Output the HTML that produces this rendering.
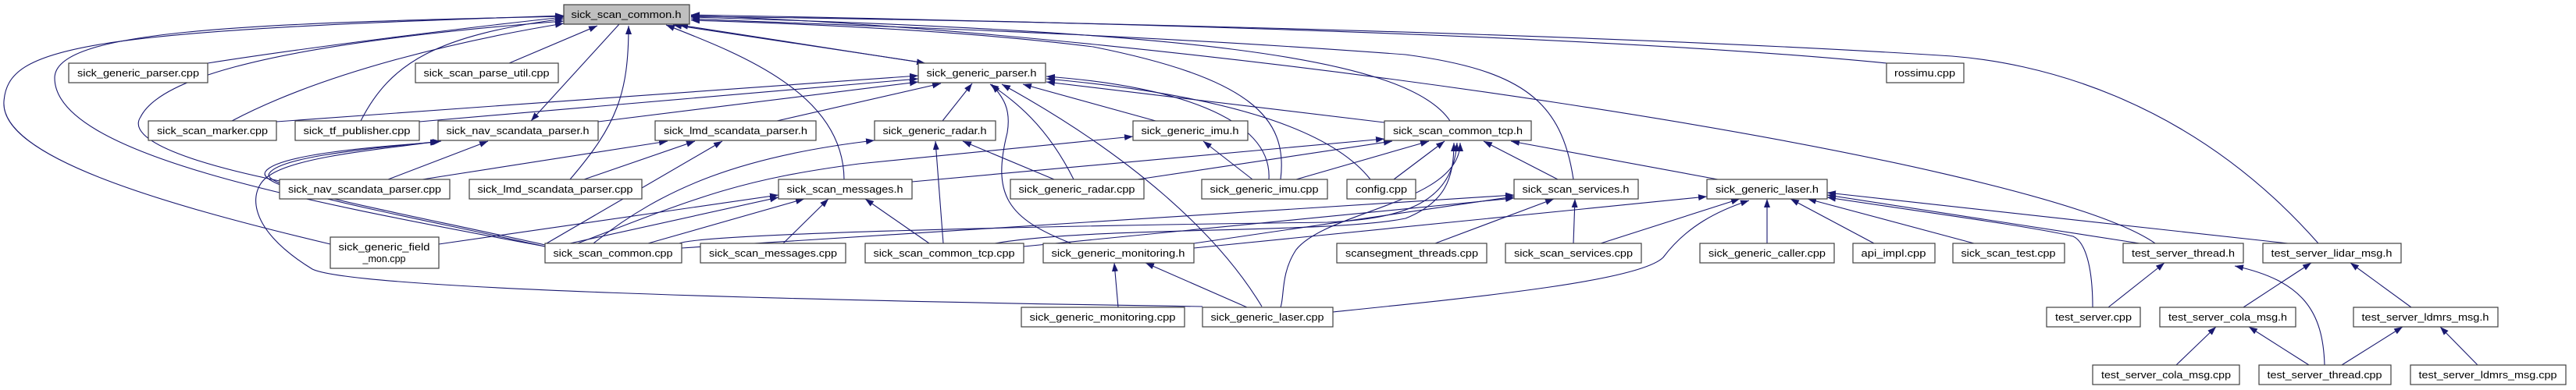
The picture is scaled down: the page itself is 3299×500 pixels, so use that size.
<!DOCTYPE html>
<html><head><meta charset="utf-8"><style>
html,body{margin:0;padding:0;background:#fff;}
svg{display:block;}
text{font-family:"Liberation Sans",sans-serif;font-size:13px;fill:#000;}
</style></head><body>
<svg width="3299" height="500" viewBox="0 0 3299 500" xmlns="http://www.w3.org/2000/svg">
<defs>
<marker id="a" markerUnits="userSpaceOnUse" markerWidth="12" markerHeight="10" refX="11" refY="4" orient="auto-start-reverse"><path d="M0,0 L11,4 L0,8 z" fill="#191970"/></marker>
</defs>
<g fill="none" stroke="#191970" stroke-width="1.1" marker-end="url(#a)">
<!-- to sick_scan_common.h -->
<path d="M266,81 C400,60 600,35 722,22"/>
<path d="M297,155 C420,90 600,50 722,30"/>
<path d="M462,155 C500,80 560,45 722,24"/>
<path d="M358,232 C250,210 160,180 180,150 C200,110 300,60 722,27"/>
<path d="M423,313 C200,260 0,200 5,130 C10,60 100,40 722,20"/>
<path d="M698,316 C400,260 70,200 70,100 C70,40 300,30 722,21"/>
<path d="M652,81 L765,33"/>
<path d="M730,230 C790,160 805,120 805,33"/>
<path d="M1081,230 C1080,120 950,70 853,32"/>
<path d="M1185,81 L870,32" marker-start="url(#a)"/>
<path d="M1180,80 L862,32"/>
<path d="M2416,81 C2000,40 1200,25 885,19"/>
<path d="M2760,312 C2600,200 1500,40 885,20"/>
<path d="M2969,312 C2800,120 2600,80 2500,72 C2000,40 1200,25 885,21"/>
<path d="M1857,155 C1800,70 1500,40 885,22"/>
<path d="M2015,230 C2000,130 1950,90 1800,70 C1400,40 1000,30 885,24"/>
<path d="M1640,230 C1650,150 1600,100 1400,60 C1200,35 950,28 885,26"/>
<path d="M793,31 L680,155"/>
<!-- to sick_generic_parser.h -->
<path d="M354,156 L1176,97"/>
<path d="M537,156 L1176,101"/>
<path d="M766,156 L1176,105"/>
<path d="M995,155 L1205,107"/>
<path d="M1207,155 L1245,107"/>
<path d="M1375,230 C1340,160 1300,130 1268,108"/>
<path d="M1372,312 C1290,280 1270,250 1290,170 C1295,140 1285,125 1270,108"/>
<path d="M1616,393 C1560,300 1450,200 1283,108"/>
<path d="M1480,155 L1310,108"/>
<path d="M1625,230 C1630,150 1500,110 1340,98"/>
<path d="M1755,230 C1700,160 1550,120 1340,101"/>
<path d="M1773,157 L1340,105"/>
<!-- to nav_scandata_parser.h -->
<path d="M497,230 L625,181"/>
<path d="M698,314 C500,270 330,240 345,222 C360,200 480,190 565,181"/>
<path d="M698,316 C500,272 325,242 340,220 C355,198 480,188 562,182"/>
<path d="M1540,393 C1000,385 450,370 400,345 C310,290 320,240 345,225 C380,200 500,190 563,181"/>
<path d="M541,230 L855,181"/>
<!-- to lmd_scandata_parser.h -->
<path d="M748,230 L890,181"/>
<path d="M700,312 L925,181"/>
<!-- radar.h -->
<path d="M760,312 C850,240 950,200 1120,180"/>
<path d="M1208,312 L1198,181"/>
<path d="M1350,230 L1233,181"/>
<!-- imu.h -->
<path d="M740,312 C900,250 950,230 1100,210 C1300,190 1400,180 1451,175"/>
<path d="M1604,230 L1541,181"/>
<!-- messages.h -->
<path d="M730,312 L997,253"/>
<path d="M562,313 L997,250"/>
<path d="M830,312 L1030,255"/>
<path d="M1003,312 L1061,255"/>
<path d="M1190,312 L1108,255"/>
<!-- tcp.h -->
<path d="M1168,233 L1773,178"/>
<path d="M1457,230 L1783,181"/>
<path d="M1660,230 L1830,181"/>
<path d="M1785,230 L1850,181"/>
<path d="M1995,230 L1900,181"/>
<path d="M2200,230 L1935,181"/>
<path d="M870,312 C900,300 1300,290 1700,285 C1800,280 1860,260 1866,183"/>
<path d="M1640,394 C1645,380 1640,350 1660,320 C1700,270 1870,260 1870,183"/>
<path d="M1274,312 C1400,290 1700,300 1800,280 C1850,260 1862,230 1862,183"/>
<!-- services.h -->
<path d="M873,318 L1939,250"/>
<path d="M1529,312 L1939,252"/>
<path d="M1311,316 L1939,254"/>
<path d="M1838,312 L1990,255"/>
<path d="M2015,312 L2017,255"/>
<!-- laser.h -->
<path d="M1529,318 L2186,252"/>
<path d="M2050,312 L2228,255"/>
<path d="M1707,400 C1900,380 2100,360 2130,330 C2160,290 2200,270 2240,257"/>
<path d="M2263,312 L2263,255"/>
<path d="M2400,312 L2293,255"/>
<path d="M2528,312 L2315,255"/>
<path d="M2740,312 L2340,250"/>
<path d="M2930,312 L2340,247"/>
<path d="M2680,394 C2680,340 2670,310 2655,303 C2600,290 2450,270 2340,253"/>
<!-- lower -->
<path d="M1432,394 L1427,337"/>
<path d="M1597,394 L1467,337"/>
<path d="M2700,394 L2772,337"/>
<path d="M2873,394 L2960,337"/>
<path d="M3088,394 L3010,337"/>
<path d="M2787,468 L2838,419"/>
<path d="M2957,468 L2880,419"/>
<path d="M2977,468 C2975,400 2950,360 2862,341"/>
<path d="M2999,468 L3077,419"/>
<path d="M3173,468 L3125,419"/>
</g>
<g stroke="#404040" stroke-width="1.2" fill="#fff">
<rect x="722" y="6" width="161" height="25" fill="#bfbfbf"/>
<rect x="88" y="81" width="178" height="25"/>
<rect x="532" y="81" width="183" height="25"/>
<rect x="1176" y="81" width="163" height="25"/>
<rect x="2416" y="81" width="99" height="25"/>
<rect x="190" y="155" width="164" height="25"/>
<rect x="378" y="155" width="159" height="25"/>
<rect x="561" y="155" width="205" height="25"/>
<rect x="839" y="155" width="206" height="25"/>
<rect x="1120" y="155" width="155" height="25"/>
<rect x="1451" y="155" width="147" height="25"/>
<rect x="1773" y="155" width="188" height="25"/>
<rect x="358" y="230" width="218" height="25"/>
<rect x="601" y="230" width="221" height="25"/>
<rect x="997" y="230" width="171" height="25"/>
<rect x="1294" y="230" width="171" height="25"/>
<rect x="1539" y="230" width="161" height="25"/>
<rect x="1725" y="230" width="88" height="25"/>
<rect x="1939" y="230" width="159" height="25"/>
<rect x="2186" y="230" width="154" height="25"/>
<rect x="423" y="304" width="139" height="40"/>
<rect x="698" y="312" width="175" height="25"/>
<rect x="897" y="312" width="186" height="25"/>
<rect x="1108" y="312" width="203" height="25"/>
<rect x="1336" y="312" width="193" height="25"/>
<rect x="1712" y="312" width="192" height="25"/>
<rect x="1928" y="312" width="174" height="25"/>
<rect x="2177" y="312" width="172" height="25"/>
<rect x="2373" y="312" width="105" height="25"/>
<rect x="2501" y="312" width="143" height="25"/>
<rect x="2719" y="312" width="154" height="25"/>
<rect x="2898" y="312" width="177" height="25"/>
<rect x="1308" y="394" width="209" height="25"/>
<rect x="1540" y="394" width="167" height="25"/>
<rect x="2621" y="394" width="120" height="25"/>
<rect x="2766" y="394" width="174" height="25"/>
<rect x="3014" y="394" width="185" height="25"/>
<rect x="2680" y="468" width="188" height="25"/>
<rect x="2893" y="468" width="169" height="25"/>
<rect x="3087" y="468" width="199" height="25"/>
</g>
<g text-anchor="middle" lengthAdjust="spacingAndGlyphs">
<text x="802" y="23" textLength="141" lengthAdjust="spacingAndGlyphs">sick_scan_common.h</text>
<text x="177" y="98" textLength="156" lengthAdjust="spacingAndGlyphs">sick_generic_parser.cpp</text>
<text x="623" y="98" textLength="161" lengthAdjust="spacingAndGlyphs">sick_scan_parse_util.cpp</text>
<text x="1257" y="98" textLength="141" lengthAdjust="spacingAndGlyphs">sick_generic_parser.h</text>
<text x="2465" y="98" textLength="78" lengthAdjust="spacingAndGlyphs">rossimu.cpp</text>
<text x="272" y="172" textLength="142" lengthAdjust="spacingAndGlyphs">sick_scan_marker.cpp</text>
<text x="457" y="172" textLength="137" lengthAdjust="spacingAndGlyphs">sick_tf_publisher.cpp</text>
<text x="663" y="172" textLength="183" lengthAdjust="spacingAndGlyphs">sick_nav_scandata_parser.h</text>
<text x="942" y="172" textLength="184" lengthAdjust="spacingAndGlyphs">sick_lmd_scandata_parser.h</text>
<text x="1197" y="172" textLength="133" lengthAdjust="spacingAndGlyphs">sick_generic_radar.h</text>
<text x="1524" y="172" textLength="125" lengthAdjust="spacingAndGlyphs">sick_generic_imu.h</text>
<text x="1867" y="172" textLength="166" lengthAdjust="spacingAndGlyphs">sick_scan_common_tcp.h</text>
<text x="467" y="247" textLength="196" lengthAdjust="spacingAndGlyphs">sick_nav_scandata_parser.cpp</text>
<text x="711" y="247" textLength="199" lengthAdjust="spacingAndGlyphs">sick_lmd_scandata_parser.cpp</text>
<text x="1082" y="247" textLength="149" lengthAdjust="spacingAndGlyphs">sick_scan_messages.h</text>
<text x="1379" y="247" textLength="149" lengthAdjust="spacingAndGlyphs">sick_generic_radar.cpp</text>
<text x="1619" y="247" textLength="139" lengthAdjust="spacingAndGlyphs">sick_generic_imu.cpp</text>
<text x="1769" y="247" textLength="66" lengthAdjust="spacingAndGlyphs">config.cpp</text>
<text x="2018" y="247" textLength="137" lengthAdjust="spacingAndGlyphs">sick_scan_services.h</text>
<text x="2263" y="247" textLength="132" lengthAdjust="spacingAndGlyphs">sick_generic_laser.h</text>
<text x="492" y="321" textLength="117" lengthAdjust="spacingAndGlyphs">sick_generic_field</text>
<text x="492" y="336" textLength="55" lengthAdjust="spacingAndGlyphs">_mon.cpp</text>
<text x="785" y="329" textLength="153" lengthAdjust="spacingAndGlyphs">sick_scan_common.cpp</text>
<text x="990" y="329" textLength="164" lengthAdjust="spacingAndGlyphs">sick_scan_messages.cpp</text>
<text x="1209" y="329" textLength="181" lengthAdjust="spacingAndGlyphs">sick_scan_common_tcp.cpp</text>
<text x="1432" y="329" textLength="171" lengthAdjust="spacingAndGlyphs">sick_generic_monitoring.h</text>
<text x="1808" y="329" textLength="170" lengthAdjust="spacingAndGlyphs">scansegment_threads.cpp</text>
<text x="2015" y="329" textLength="152" lengthAdjust="spacingAndGlyphs">sick_scan_services.cpp</text>
<text x="2263" y="329" textLength="150" lengthAdjust="spacingAndGlyphs">sick_generic_caller.cpp</text>
<text x="2425" y="329" textLength="83" lengthAdjust="spacingAndGlyphs">api_impl.cpp</text>
<text x="2572" y="329" textLength="121" lengthAdjust="spacingAndGlyphs">sick_scan_test.cpp</text>
<text x="2796" y="329" textLength="132" lengthAdjust="spacingAndGlyphs">test_server_thread.h</text>
<text x="2986" y="329" textLength="155" lengthAdjust="spacingAndGlyphs">test_server_lidar_msg.h</text>
<text x="1412" y="411" textLength="187" lengthAdjust="spacingAndGlyphs">sick_generic_monitoring.cpp</text>
<text x="1623" y="411" textLength="145" lengthAdjust="spacingAndGlyphs">sick_generic_laser.cpp</text>
<text x="2681" y="411" textLength="98" lengthAdjust="spacingAndGlyphs">test_server.cpp</text>
<text x="2853" y="411" textLength="152" lengthAdjust="spacingAndGlyphs">test_server_cola_msg.h</text>
<text x="3106" y="411" textLength="163" lengthAdjust="spacingAndGlyphs">test_server_ldmrs_msg.h</text>
<text x="2774" y="485" textLength="166" lengthAdjust="spacingAndGlyphs">test_server_cola_msg.cpp</text>
<text x="2977" y="485" textLength="147" lengthAdjust="spacingAndGlyphs">test_server_thread.cpp</text>
<text x="3186" y="485" textLength="177" lengthAdjust="spacingAndGlyphs">test_server_ldmrs_msg.cpp</text>
</g>
</svg>
</body></html>
